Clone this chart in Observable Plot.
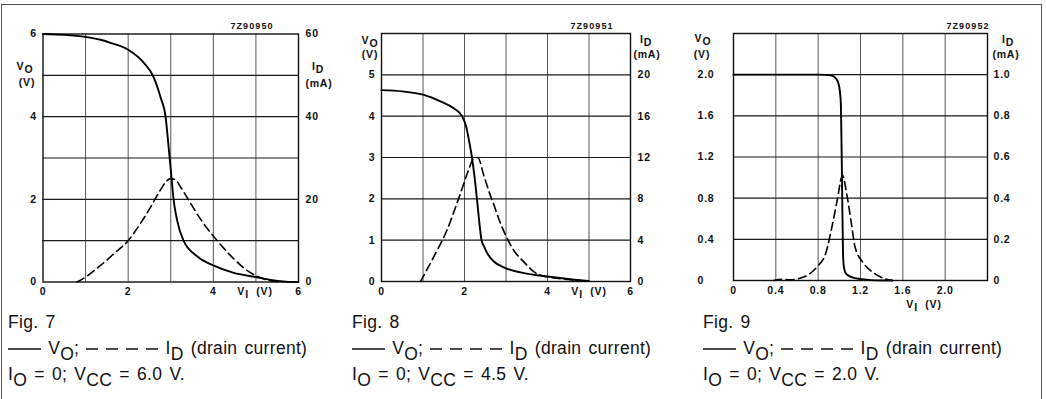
<!DOCTYPE html>
<html>
<head>
<meta charset="utf-8">
<script src="https://cdn.jsdelivr.net/npm/d3@7"></script>
<script src="https://cdn.jsdelivr.net/npm/@observablehq/plot@0.6"></script>
<style>
  body { margin: 0; background: #fff; }
  #root { position: relative; width: 1046px; height: 399px; overflow: hidden; background: #fff; }
  .border { position: absolute; left: 1px; top: 4px; width: 1041px; height: 430px; border: 1.5px solid #555; box-sizing: border-box; }
  .panel { position: absolute; top: 0; }
  .lab { position: absolute; transform: translate(-50%, -50%); font-family: "Liberation Sans", Arial, sans-serif; font-weight: bold; font-size: 10.5px; letter-spacing: 0.8px; color: #111; white-space: nowrap; line-height: 1; }
  .lab sub { font-size: 1em; vertical-align: -0.35em; line-height: 0; }
  .code { font-size: 9px; letter-spacing: 1.1px; }
  .cap { position: absolute; font-family: "Liberation Sans Narrow", "Liberation Sans", Arial, sans-serif; font-size: 17.5px; letter-spacing: 0.3px; word-spacing: 2px; color: #111; white-space: nowrap; line-height: 1; }
  .cap sub { font-size: 1em; vertical-align: -0.35em; line-height: 0; }
  .cap svg { vertical-align: middle; }
</style>
</head>
<body>
<div id="root">
  <div class="border"></div>
</div>
<script>
// ---------- Fig. 7 (VCC = 6.0 V) ----------
const fig7VI = [0, 0.5, 1.0, 1.35, 1.6, 2.0, 2.37, 2.6, 2.76, 2.88, 2.95, 3.01, 3.06, 3.15, 3.3, 3.65, 4.0, 4.48, 5.0, 5.34, 5.7, 6.0];
const fig7VO = [6.0, 5.98, 5.93, 5.86, 5.78, 5.62, 5.3, 4.95, 4.47, 3.99, 3.26, 2.62, 2.05, 1.49, 1.0, 0.6, 0.4, 0.22, 0.12, 0.05, 0.01, 0.0];
const fig7IDVI = [0.8, 1.0, 1.35, 1.66, 2.0, 2.29, 2.52, 2.76, 2.9, 3.0, 3.1, 3.23, 3.38, 3.7, 4.09, 4.48, 4.79, 5.07, 5.34, 5.6];
const fig7ID = [0, 1.2, 4.0, 6.8, 10.0, 14.2, 18.0, 22.3, 24.4, 25.0, 24.8, 23.0, 20.5, 15.2, 10.0, 5.6, 2.8, 1.2, 0.3, 0];
const fig7XTicks = [0, 2, 4, 6];
const fig7XLabels = ["0", "2", "4", "6"];
const fig7XGrid = [1, 2, 3, 4, 5];
const fig7YTicks = [0, 2, 4, 6];
const fig7YLabels = ["0", "2", "4", "6"];
const fig7RLabels = ["0", "20", "40", "60"];
const fig7YGrid = [1, 2, 3, 4, 5];

// ---------- Fig. 8 (VCC = 4.5 V) ----------
const fig8VI = [0, 0.5, 1.0, 1.42, 1.74, 1.94, 2.04, 2.12, 2.18, 2.24, 2.3, 2.35, 2.41, 2.47, 2.55, 2.7, 3.0, 3.5, 4.0, 4.5, 5.0];
const fig8VO = [4.63, 4.6, 4.52, 4.36, 4.19, 4.0, 3.75, 3.35, 3.0, 2.55, 2.0, 1.5, 1.0, 0.85, 0.68, 0.49, 0.32, 0.19, 0.12, 0.06, 0.01];
const fig8IDVI = [0.94, 1.26, 1.58, 1.9, 2.1, 2.22, 2.32, 2.47, 2.6, 2.71, 2.85, 3.0, 3.19, 3.43, 3.67, 4.0, 4.5, 5.0];
const fig8ID = [0, 2.4, 5.0, 8.5, 10.8, 11.9, 12.0, 10.2, 8.6, 7.4, 5.8, 4.4, 3.0, 1.9, 0.95, 0.45, 0.2, 0];
const fig8XTicks = [0, 2, 4, 6];
const fig8XLabels = ["0", "2", "4", "6"];
const fig8XGrid = [1, 2, 3, 4, 5];
const fig8YTicks = [0, 1, 2, 3, 4, 5];
const fig8YLabels = ["0", "1", "2", "3", "4", "5"];
const fig8RLabels = ["0", "4", "8", "12", "16", "20"];
const fig8YGrid = [1, 2, 3, 4, 5];

// ---------- Fig. 9 (VCC = 2.0 V) ----------
const fig9VI = [0, 0.4, 0.8, 0.87, 0.93, 0.97, 0.99, 1.005, 1.015, 1.025, 1.035, 1.045, 1.06, 1.09, 1.14, 1.2, 1.3, 1.5];
const fig9VO = [2.0, 2.0, 2.0, 1.998, 1.99, 1.96, 1.92, 1.84, 1.7, 1.0, 0.25, 0.12, 0.07, 0.045, 0.025, 0.015, 0.004, 0];
const fig9IDVI = [0.38, 0.45, 0.54, 0.67, 0.79, 0.87, 0.93, 0.98, 1.03, 1.07, 1.11, 1.15, 1.23, 1.33, 1.42, 1.5];
const fig9ID = [0, 0.006, 0.004, 0.018, 0.067, 0.13, 0.26, 0.39, 0.51, 0.42, 0.29, 0.16, 0.083, 0.035, 0.01, 0];
const fig9XTicks = [0, 0.4, 0.8, 1.2, 1.6, 2.0];
const fig9XLabels = ["0", "0.4", "0.8", "1.2", "1.6", "2.0"];
const fig9XGrid = [0.4, 0.8, 1.2, 1.6, 2.0];
const fig9YTicks = [0, 0.4, 0.8, 1.2, 1.6, 2.0];
const fig9YLabels = ["0", "0.4", "0.8", "1.2", "1.6", "2.0"];
const fig9RLabels = ["0", "0.2", "0.4", "0.6", "0.8", "1.0"];
const fig9YGrid = [0.4, 0.8, 1.2, 1.6, 2.0];

const root = document.getElementById("root");

function makePanel(c) {
  const xFmt = new Map(c.xTicks.map((t, i) => [t, c.xLabels[i]]));
  const yFmt = new Map(c.yTicks.map((t, i) => [t, c.yLabels[i]]));
  const rFmt = new Map(c.yTicks.map((t, i) => [t, c.rLabels[i]]));
  const vo = c.vi.map((x, i) => ({x, y: c.vo[i]}));
  const id = c.idvi.map((x, i) => ({x, y: c.id[i] * c.k}));
  const chart = Plot.plot({
    width: c.width, height: c.height,
    marginLeft: c.ml, marginRight: c.mr, marginTop: c.mt, marginBottom: c.mb,
    x: {domain: c.xDomain},
    y: {domain: c.yDomain},
    style: {fontFamily: "'Liberation Sans', Arial, sans-serif", fontSize: "10.5px", fontWeight: "bold", letterSpacing: "0.8px", color: "#111", background: "transparent", overflow: "visible"},
    marks: [
      Plot.ruleX(c.xGrid, {stroke: "#444", strokeWidth: 0.9}),
      Plot.ruleY(c.yGrid, {stroke: "#1a1a1a", strokeWidth: 1.2}),
      Plot.frame({stroke: "#111", strokeWidth: 1.4}),
      Plot.axisX({ticks: c.xTicks, tickSize: 0, tickPadding: 6, tickFormat: d => xFmt.get(d), label: null}),
      Plot.axisY({ticks: c.yTicks, anchor: "left", tickSize: 0, tickPadding: c.lpad, textAnchor: c.lAnchor, tickFormat: d => yFmt.get(d), label: null}),
      Plot.axisY({ticks: c.yTicks, anchor: "right", tickSize: 0, tickPadding: c.rpad, tickFormat: d => rFmt.get(d), label: null}),
      Plot.line(id, {x: "x", y: "y", curve: "monotone-x", stroke: "#000", strokeWidth: 1.6, strokeDasharray: "8,4.5"}),
      Plot.line(vo, {x: "x", y: "y", curve: "monotone-x", stroke: "#000", strokeWidth: 1.9})
    ]
  });
  const wrap = document.createElement("div");
  wrap.className = "panel";
  wrap.style.left = c.left + "px";
  wrap.appendChild(chart);
  root.appendChild(wrap);
}

makePanel({left: 0, width: 340, height: 312, ml: 42.5, mr: 42, mt: 33.5, mb: 30.5,
  xDomain: [0, 6], yDomain: [0, 6], k: 0.1, lpad: 6, rpad: 7, lAnchor: "end",
  vi: fig7VI, vo: fig7VO, idvi: fig7IDVI, id: fig7ID,
  xTicks: fig7XTicks, xLabels: fig7XLabels, xGrid: fig7XGrid,
  yTicks: fig7YTicks, yLabels: fig7YLabels, rLabels: fig7RLabels, yGrid: fig7YGrid});

makePanel({left: 340, width: 340, height: 312, ml: 41, mr: 50, mt: 33, mb: 31,
  xDomain: [0, 6], yDomain: [0, 6], k: 0.25, lpad: 6, rpad: 7, lAnchor: "end",
  vi: fig8VI, vo: fig8VO, idvi: fig8IDVI, id: fig8ID,
  xTicks: fig8XTicks, xLabels: fig8XLabels, xGrid: fig8XGrid,
  yTicks: fig8YTicks, yLabels: fig8YLabels, rLabels: fig8RLabels, yGrid: fig8YGrid});

makePanel({left: 690, width: 350, height: 312, ml: 43, mr: 53, mt: 33, mb: 32,
  xDomain: [0, 2.4], yDomain: [0, 2.4], k: 2, lpad: 36, rpad: 6, lAnchor: "start",
  vi: fig9VI, vo: fig9VO, idvi: fig9IDVI, id: fig9ID,
  xTicks: fig9XTicks, xLabels: fig9XLabels, xGrid: fig9XGrid,
  yTicks: fig9YTicks, yLabels: fig9YLabels, rLabels: fig9RLabels, yGrid: fig9YGrid});

// axis titles and drawing codes
function lab(x, y, html, cls) {
  const d = document.createElement("div");
  d.className = "lab" + (cls ? " " + cls : "");
  d.style.left = x + "px"; d.style.top = y + "px";
  d.innerHTML = html;
  root.appendChild(d);
}
const VO = "V<sub>O</sub>", ID = "I<sub>D</sub>", VI = "V<sub>I</sub>&nbsp;&nbsp;(V)";
// Fig 7
lab(252, 26, "7Z90950", "code");
lab(25, 66, VO); lab(27, 82, "(V)");
lab(318, 66, ID); lab(319, 83, "(mA)");
lab(255, 291, VI);
// Fig 8
lab(592, 26, "7Z90951", "code");
lab(370, 40, VO); lab(370, 54, "(V)");
lab(646, 39, ID); lab(647, 54, "(mA)");
lab(589, 291, VI);
// Fig 9
lab(968, 26, "7Z90952", "code");
lab(703, 38, VO); lab(702, 54, "(V)");
lab(1008, 39, ID); lab(1006, 54, "(mA)");
lab(924, 304, VI);

// captions
const solidSym = '<svg width="33" height="6"><line x1="0" y1="3" x2="33" y2="3" stroke="#111" stroke-width="1.3"/></svg>';
const dashSym = '<svg width="72" height="6"><line x1="0" y1="3" x2="72" y2="3" stroke="#111" stroke-width="1.3" stroke-dasharray="12,8"/></svg>';
function caption(x, fig, vcc) {
  const a = document.createElement("div");
  a.className = "cap"; a.style.left = x + "px"; a.style.top = "314px";
  a.textContent = fig; root.appendChild(a);
  const b = document.createElement("div");
  b.className = "cap"; b.style.left = x + "px"; b.style.top = "340px";
  b.innerHTML = solidSym + " V<sub>O</sub>; " + dashSym + " I<sub>D</sub> (drain current)";
  root.appendChild(b);
  const c = document.createElement("div");
  c.className = "cap"; c.style.left = x + "px"; c.style.top = "366px";
  c.innerHTML = "I<sub>O</sub> = 0; V<sub>CC</sub> = " + vcc + " V.";
  root.appendChild(c);
}
caption(8, "Fig. 7", "6.0");
caption(352, "Fig. 8", "4.5");
caption(703, "Fig. 9", "2.0");
</script>
</body>
</html>
